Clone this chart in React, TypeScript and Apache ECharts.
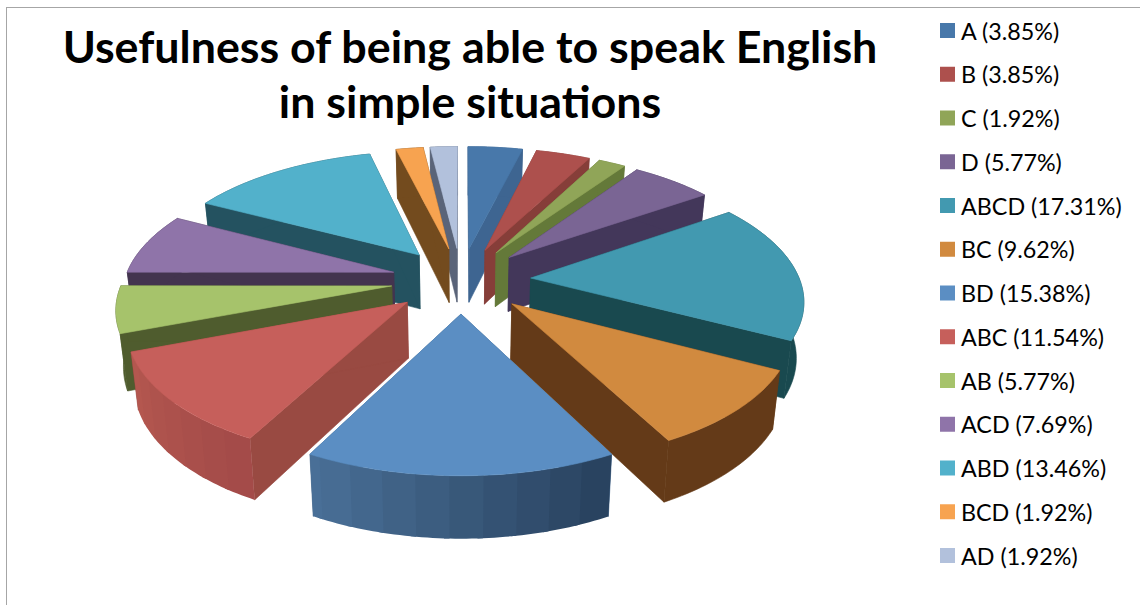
import React, { useEffect, useRef } from "react";
import * as echarts from "echarts";

// Answer groups and their share of responses, in percent.
const groups = ["A", "B", "C", "D", "ABCD", "BC", "BD", "ABC", "AB", "ACD", "ABD", "BCD", "AD"];
const shares = [3.85, 3.85, 1.92, 5.77, 17.31, 9.62, 15.38, 11.54, 5.77, 7.69, 13.46, 1.92, 1.92];

// Colours of each group: top face, flat side, curved rim start and end.
const topColors = ["#4878AA", "#AD504D", "#90A558", "#7A6594", "#4299B0", "#D18A3F", "#5B8EC3", "#C65F5B", "#A6C36B", "#8F74A9", "#52B1CB", "#F7A350", "#B2C1DC"];
const sideColors = ["#3E6591", "#863E39", "#647939", "#43375A", "#19494F", "#643A18", "#3A5F86", "#994A42", "#4F5C2E", "#43344F", "#245260", "#734B1E", "#5A6479"];
const rimFrom = ["#3E6591", "#863E39", "#647939", "#43375A", "#19494F", "#643A18", "#4A7098", "#B5584F", "#4F5C2E", "#43344F", "#245260", "#734B1E", "#5A6479"];
const rimTo = ["#3E6591", "#863E39", "#647939", "#43375A", "#19494F", "#643A18", "#27405C", "#A24A48", "#4F5C2E", "#43344F", "#245260", "#734B1E", "#5A6479"];

const title = "Usefulness of being able to speak English\nin simple situations";

// Perspective model of the exploded disc.
const CX = 461;
const CY = 280;
const RX = 269;
const RY = 126;
const EXPLODE = 0.26;
const PERSPECTIVE = 0.15;
const DEPTH = 55;
const DEPTH_FALLOFF = 0.1;
// Vertical edges lean slightly inward towards the base of the disc.
const BASE_NARROWING = 0.978;

const total = shares.reduce((a, b) => a + b, 0);

type Pt = [number, number];

function hexToRgb(hex: string): number[] {
  return [1, 3, 5].map((i) => parseInt(hex.slice(i, i + 2), 16));
}

function mix(a: string, b: string, t: number): string {
  const ca = hexToRgb(a);
  const cb = hexToRgb(b);
  return `rgb(${ca.map((v, i) => Math.round(v + (cb[i] - v) * t)).join(",")})`;
}

function project(x: number, y: number, lower: boolean): Pt {
  const w = 1 + PERSPECTIVE * y;
  const dx = (RX * x) / w;
  const sy = CY - (RY * y) / w;
  return lower
    ? [CX + dx * BASE_NARROWING, sy + DEPTH / (1 + DEPTH_FALLOFF * y)]
    : [CX + dx, sy];
}

function polygon(points: Pt[], fill: string, edge = true) {
  return {
    type: "polygon",
    shape: { points },
    style: edge ? { fill, stroke: fill, lineWidth: 0.6 } : { fill },
  };
}

function renderSlice(_params: any, api: any) {
  const share = api.value(0);
  const before = api.value(1);
  const index = api.value(2);
  const a0 = (before / total) * Math.PI * 2;
  const a1 = ((before + share) / total) * Math.PI * 2;
  const mid = (a0 + a1) / 2;
  const ox = EXPLODE * Math.sin(mid);
  const oy = EXPLODE * Math.cos(mid);
  const rim = (a: number): [number, number] => [ox + Math.sin(a), oy + Math.cos(a)];

  const steps = Math.max(2, Math.ceil(((a1 - a0) * 180) / Math.PI));
  const arc: [number, number][] = [];
  for (let i = 0; i <= steps; i++) arc.push(rim(a0 + ((a1 - a0) * i) / steps));

  const side = sideColors[index];
  const wall = (p: [number, number], q: [number, number], fill: string) =>
    polygon(
      [project(p[0], p[1], false), project(q[0], q[1], false), project(q[0], q[1], true), project(p[0], p[1], true)],
      fill,
    );

  const children: any[] = [];
  children.push(wall([ox, oy], arc[0], side));
  children.push(wall([ox, oy], arc[arc.length - 1], side));

  // Curved rim: a flat band when the shade is uniform, otherwise narrow
  // facets painted from the far end so that each overlaps its neighbour.
  const uniform = rimFrom[index] === rimTo[index];
  const facet = uniform ? steps : 6;
  for (let i = 0; i < steps; i += facet) {
    const j = Math.min(steps, i + facet + 1);
    const pts: Pt[] = [];
    for (let k = i; k <= j; k++) pts.push(project(arc[k][0], arc[k][1], false));
    for (let k = j; k >= i; k--) pts.push(project(arc[k][0], arc[k][1], true));
    children.push(polygon(pts, mix(rimTo[index], rimFrom[index], (i + j) / 2 / steps), uniform));
  }

  const top: Pt[] = [project(ox, oy, false)];
  for (const p of arc) top.push(project(p[0], p[1], false));
  children.push(polygon(top, topColors[index]));

  return { type: "group", children };
}

export default function App() {
  const ref = useRef<HTMLDivElement>(null);

  useEffect(() => {
    const chart = echarts.init(ref.current!, undefined, { renderer: "svg" });
    const names = groups.map((g, i) => `${g} (${shares[i].toFixed(2)}%)`);
    let running = 0;
    const series = groups.map((_, i) => {
      const before = running;
      running += shares[i];
      const mid = ((before + shares[i] / 2) / total) * Math.PI * 2;
      return {
        type: "custom",
        name: names[i],
        coordinateSystem: "none",
        renderItem: renderSlice,
        itemStyle: { color: topColors[i] },
        // Far slices are painted first so near ones overlap them.
        z: 5 - Math.cos(mid),
        data: [[shares[i], before, i]],
        silent: true,
      };
    });

    chart.setOption({
      animation: false,
      backgroundColor: "#ffffff",
      title: {
        text: title,
        left: 465,
        top: 13,
        textAlign: "center",
        textStyle: { fontFamily: "Lato", fontSize: 44.8, fontWeight: "bold", color: "#000000", lineHeight: 55 },
      },
      legend: {
        orient: "vertical",
        left: 940,
        top: 16,
        height: 585,
        padding: 0,
        icon: "rect",
        itemWidth: 15,
        itemHeight: 15,
        itemGap: 14.75,
        selectedMode: false,
        data: names,
        textStyle: { fontFamily: "Lato", fontSize: 23.3, color: "#000000", padding: [5, 0, 0, 1], lineHeight: 24 },
      },
      graphic: [
        { type: "line", shape: { x1: 6.5, y1: 7, x2: 6.5, y2: 605 }, style: { stroke: "#a6a6a6", lineWidth: 1 } },
        { type: "line", shape: { x1: 6, y1: 7.5, x2: 1140, y2: 7.5 }, style: { stroke: "#a6a6a6", lineWidth: 1 } },
      ],
      series,
    });
    return () => chart.dispose();
  }, []);

  return <div ref={ref} style={{ position: "fixed", left: 0, top: 0, width: 1140, height: 605 }} />;
}
